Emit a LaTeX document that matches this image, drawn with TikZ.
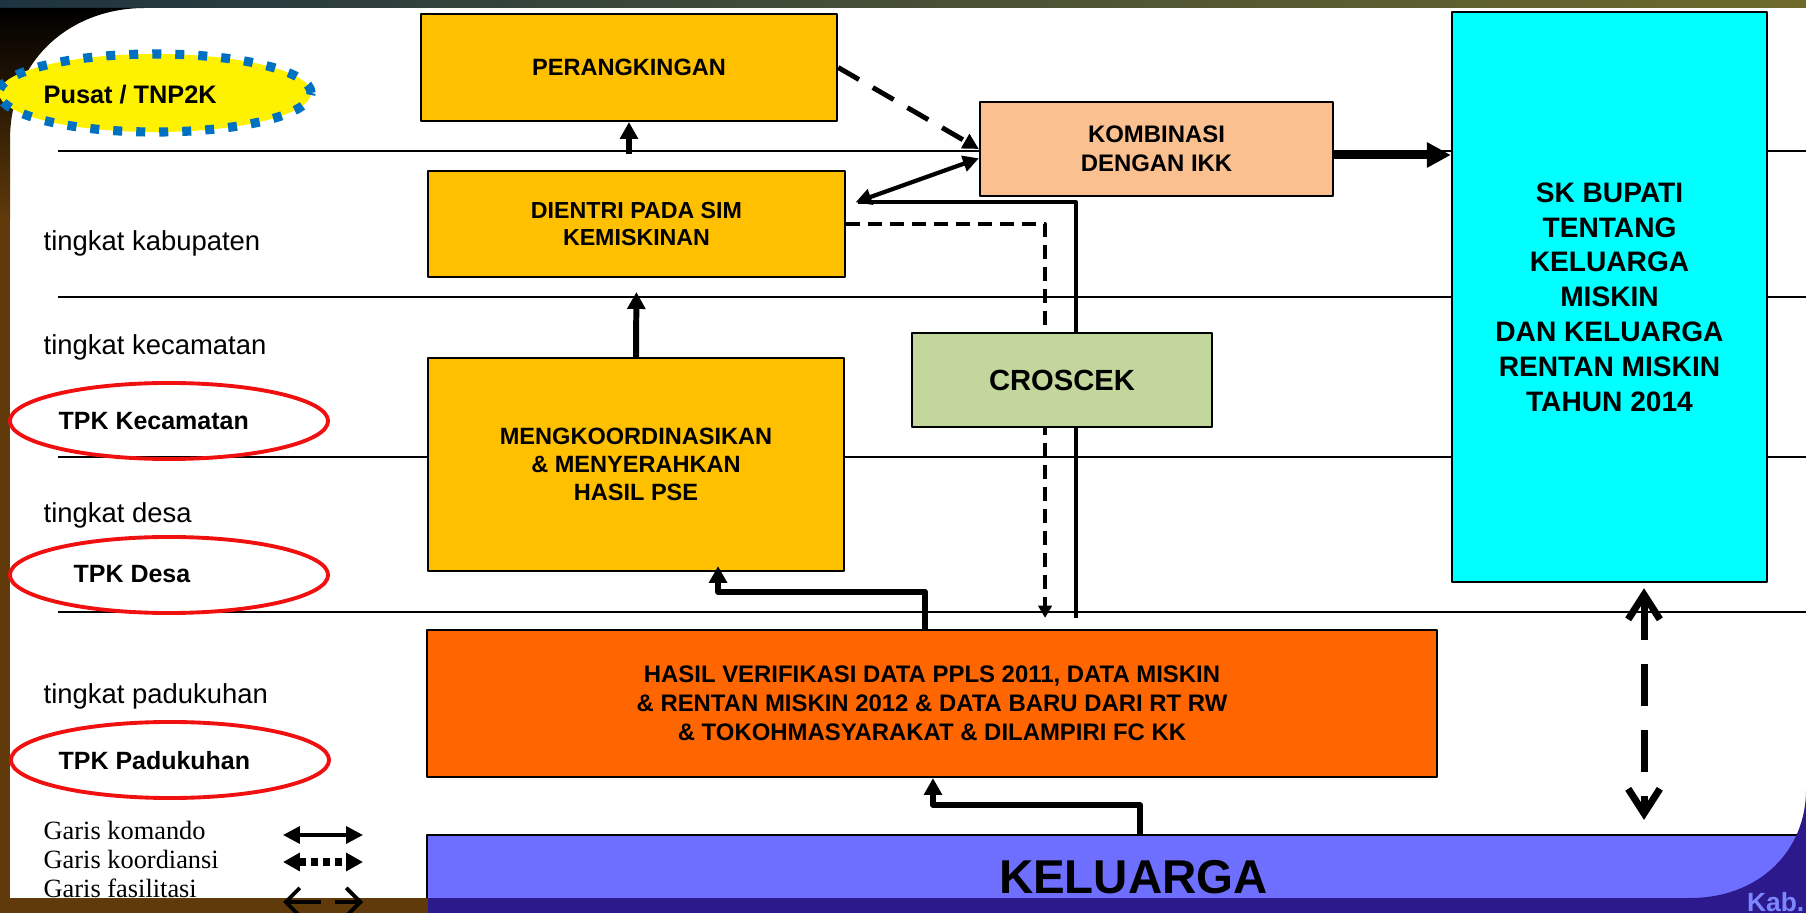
\documentclass[tikz,border=0pt]{standalone}
\usepackage{fontspec}
\newfontfamily\arial{Liberation Sans}
\newfontfamily\serifket{Liberation Serif}
\usetikzlibrary{arrows.meta,shapes.geometric}
\definecolor{oranye}{HTML}{FFC000}
\definecolor{persik}{HTML}{FAC090}
\definecolor{hijau}{HTML}{C3D69B}
\definecolor{jingga}{HTML}{FF6600}
\definecolor{ungu}{HTML}{6F6FFF}
\definecolor{sian}{HTML}{00FFFF}
\definecolor{biruk}{HTML}{0070C0}
\definecolor{merah}{HTML}{F01010}
\definecolor{coklat}{HTML}{603A0A}
\definecolor{birutua}{HTML}{2C1A8C}
\definecolor{kab}{HTML}{7C86FF}
\definecolor{atas1}{HTML}{1E3440}
\definecolor{atas2}{HTML}{8A5A2A}
\definecolor{atas3}{HTML}{6E6A2C}
\begin{document}
\begin{tikzpicture}[x=0.01cm, y=-0.01cm, line join=round,
	box/.style={draw, line width=0.6pt, inner sep=0pt, align=center, font=\arial\bfseries\fontsize{6.7pt}{8pt}\selectfont},
	level/.style={line width=0.6pt},
	lvl/.style={anchor=base west, inner sep=0pt, font=\arial\fontsize{7.8pt}{9pt}\selectfont},
	tpk/.style={anchor=base west, inner sep=0pt, font=\arial\bfseries\fontsize{7.1pt}{9pt}\selectfont},
	ring/.style={draw=merah, line width=1.1pt, ellipse, inner sep=0pt, minimum width=3.18cm, minimum height=0.76cm},
	legenda/.style={anchor=base west, inner sep=0pt, font=\serifket\fontsize{7.5pt}{8pt}\selectfont},
	cmd/.style={line width=1.7pt, -{Triangle[length=4.8pt,width=5pt]}},
	cmdtwo/.style={line width=1.2pt, {Triangle[length=4.5pt,width=4.5pt]}-{Triangle[length=4.5pt,width=4.5pt]}},
	big/.style={line width=2.5pt, -{Triangle[length=6.8pt,width=6.8pt]}},
	koord/.style={line width=0.9pt, dash pattern=on 0.14cm off 0.08cm, -{Triangle[length=3.5pt,width=3.8pt]}},
	koordtebal/.style={line width=1.4pt, dash pattern=on 0.24cm off 0.16cm, -{Triangle[length=4.5pt,width=4.5pt]}},
	fasil/.style={line width=2pt, dash pattern=on 0.42cm off 0.24cm, {Straight Barb[length=7pt,width=9pt]}-{Straight Barb[length=7pt,width=9pt]}}]
\useasboundingbox (0,0) rectangle (1806,913);
\fill[white] (0,0) rectangle (1806,913);
% garis tingkat
\foreach \y in {151,297,457,612}
	\draw[level] (58,\y) -- (1806,\y);
% kotak
\node[box, fill=oranye, minimum width=4.16cm, minimum height=1.07cm] (rangking) at (629,67.5) {PERANGKINGAN};
\node[box, fill=oranye, minimum width=4.17cm, minimum height=1.06cm, font=\arial\bfseries\fontsize{6.6pt}{7.9pt}\selectfont] (dientri) at (636.5,224) {DIENTRI PADA SIM\\KEMISKINAN};
\node[box, fill=oranye, minimum width=4.16cm, minimum height=2.13cm, font=\arial\bfseries\fontsize{6.7pt}{7.9pt}\selectfont] (koor) at (636,464.5) {MENGKOORDINASIKAN\\\& MENYERAHKAN\\HASIL PSE};
\node[box, fill=persik, minimum width=3.53cm, minimum height=0.94cm, font=\arial\bfseries\fontsize{6.8pt}{8.1pt}\selectfont] (kombi) at (1156.5,149) {KOMBINASI\\DENGAN IKK};
\node[box, fill=sian, minimum width=3.15cm, minimum height=5.7cm, font=\arial\bfseries\fontsize{8pt}{9.9pt}\selectfont] (skb) at (1609.5,297) {SK BUPATI\\TENTANG\\KELUARGA\\MISKIN\\DAN KELUARGA\\RENTAN MISKIN\\TAHUN 2014};
\node[box, fill=jingga, minimum width=10.1cm, minimum height=1.47cm, font=\arial\bfseries\fontsize{6.8pt}{8.2pt}\selectfont] (hasil) at (932,703.5) {HASIL VERIFIKASI DATA PPLS 2011, DATA MISKIN\\\& RENTAN MISKIN 2012 \& DATA BARU DARI RT RW\\\& TOKOHMASYARAKAT \& DILAMPIRI FC KK};
\node[box, fill=ungu, minimum width=14.13cm, minimum height=0.84cm, font=\arial\bfseries\fontsize{13.5pt}{15pt}\selectfont] (kel) at (1133.5,877) {KELUARGA};
% panah
\draw[cmd, shorten <=0.16cm] (dientri.north -| rangking.south) -- (rangking.south);
\draw[cmd, shorten >=0.14cm] (koor.north) -- (dientri.south);
\draw[cmd, shorten >=-0.06cm] ([xshift=-0.07cm]hasil.north) |- ++(0,-37) -| ([xshift=0.82cm]koor.south);
\draw[cmd] ([xshift=0.065cm]kel.north) |- ++(0,-29) -| ([xshift=0.01cm]hasil.south);
\draw[koordtebal] (rangking.east) -- (kombi.west);
\draw[cmdtwo, shorten <=0.1cm] (dientri.5) -- (kombi.183);
\draw[big] ([yshift=-0.06cm]kombi.east) -- ([yshift=-0.06cm]kombi.east -| skb.west);
\draw[line width=1pt, shorten <=0.12cm] (dientri.6) -| ([xshift=1.44cm,yshift=0.11cm]hasil.north);
\draw[koord] (dientri.east) -| ([xshift=1.13cm,yshift=0.11cm]hasil.north);
\draw[fasil, shorten <=0.05cm, shorten >=0.14cm] ([xshift=0.345cm]skb.south) -- ([xshift=0.345cm]skb.south |- kel.north);
\node[box, fill=hijau, minimum width=3cm, minimum height=0.94cm, font=\arial\bfseries\fontsize{8.3pt}{10pt}\selectfont] (cek) at (1062,380) {CROSCEK};
% bingkai
\shade[left color=atas1, middle color=atas2, right color=atas3] (0,0) rectangle (1806,8);
\fill[coklat] (0,8) rectangle (10,898);
\shade[top color=black, bottom color=coklat] (0,8) -- (145,8) .. controls (70,8) and (10,60) .. (10,140) -- (10,220) -- (0,220) -- cycle;
\fill[coklat] (0,898) rectangle (428,913);
\fill[birutua] (428,898) rectangle (1806,913);
\fill[birutua] (1690,898) .. controls (1760,898) and (1806,850) .. (1806,790) -- (1806,913) -- (1690,913) -- cycle;
\node[anchor=base east, inner sep=0pt, text=kab, font=\arial\bfseries\fontsize{7.5pt}{9pt}\selectfont] (kabtxt) at (1805,911) {Kab.};
% tingkat
\node[draw=biruk, fill=yellow, line width=2.6pt, dash pattern=on 0.09cm off 0.14cm, ellipse, inner sep=0pt, minimum width=3.12cm, minimum height=0.78cm] (pusat) at (155,93) {};
\node[tpk, font=\arial\bfseries\fontsize{7.2pt}{9pt}\selectfont] (pusatlbl) at (43,104) {Pusat / TNP2K};
\node[lvl] (kab) at (43,251) {tingkat kabupaten};
\node[lvl] (kec) at (43,355) {tingkat kecamatan};
\node[lvl] (desa) at (43,523) {tingkat desa};
\node[lvl] (duk) at (43,704) {tingkat padukuhan};
\node[ring] (tpkkec) at (169,421) {};
\node[tpk] (tpkkeclbl) at (58,430) {TPK Kecamatan};
\node[ring] (tpkdesa) at (169,575) {};
\node[tpk] (tpkdesalbl) at (73,583) {TPK Desa};
\node[ring] (tpkduk) at (170,760) {};
\node[tpk] (tpkduklbl) at (58,769) {TPK Padukuhan};
% keterangan
\node[legenda] (lgk) at (43,840) {Garis komando};
\node[legenda] (lgo) at (43,868) {Garis koordiansi};
\node[legenda] (lgf) at (43,897) {Garis fasilitasi};
\draw[line width=1pt, {Triangle[length=4.8pt,width=4.8pt]}-{Triangle[length=4.8pt,width=4.8pt]}] (283,835) -- (363,835);
\draw[line width=2pt, dash pattern=on 0.07cm off 0.05cm, {Triangle[length=4.8pt,width=5pt]}-{Triangle[length=4.8pt,width=5pt]}] (283,862) -- (363,862);
\draw[line width=1.1pt, dash pattern=on 0.33cm off 0.14cm, {Straight Barb[length=4pt,width=8pt]}-{Straight Barb[length=4pt,width=8pt]}] (283,902) -- (363,902);
\end{tikzpicture}
\end{document}
